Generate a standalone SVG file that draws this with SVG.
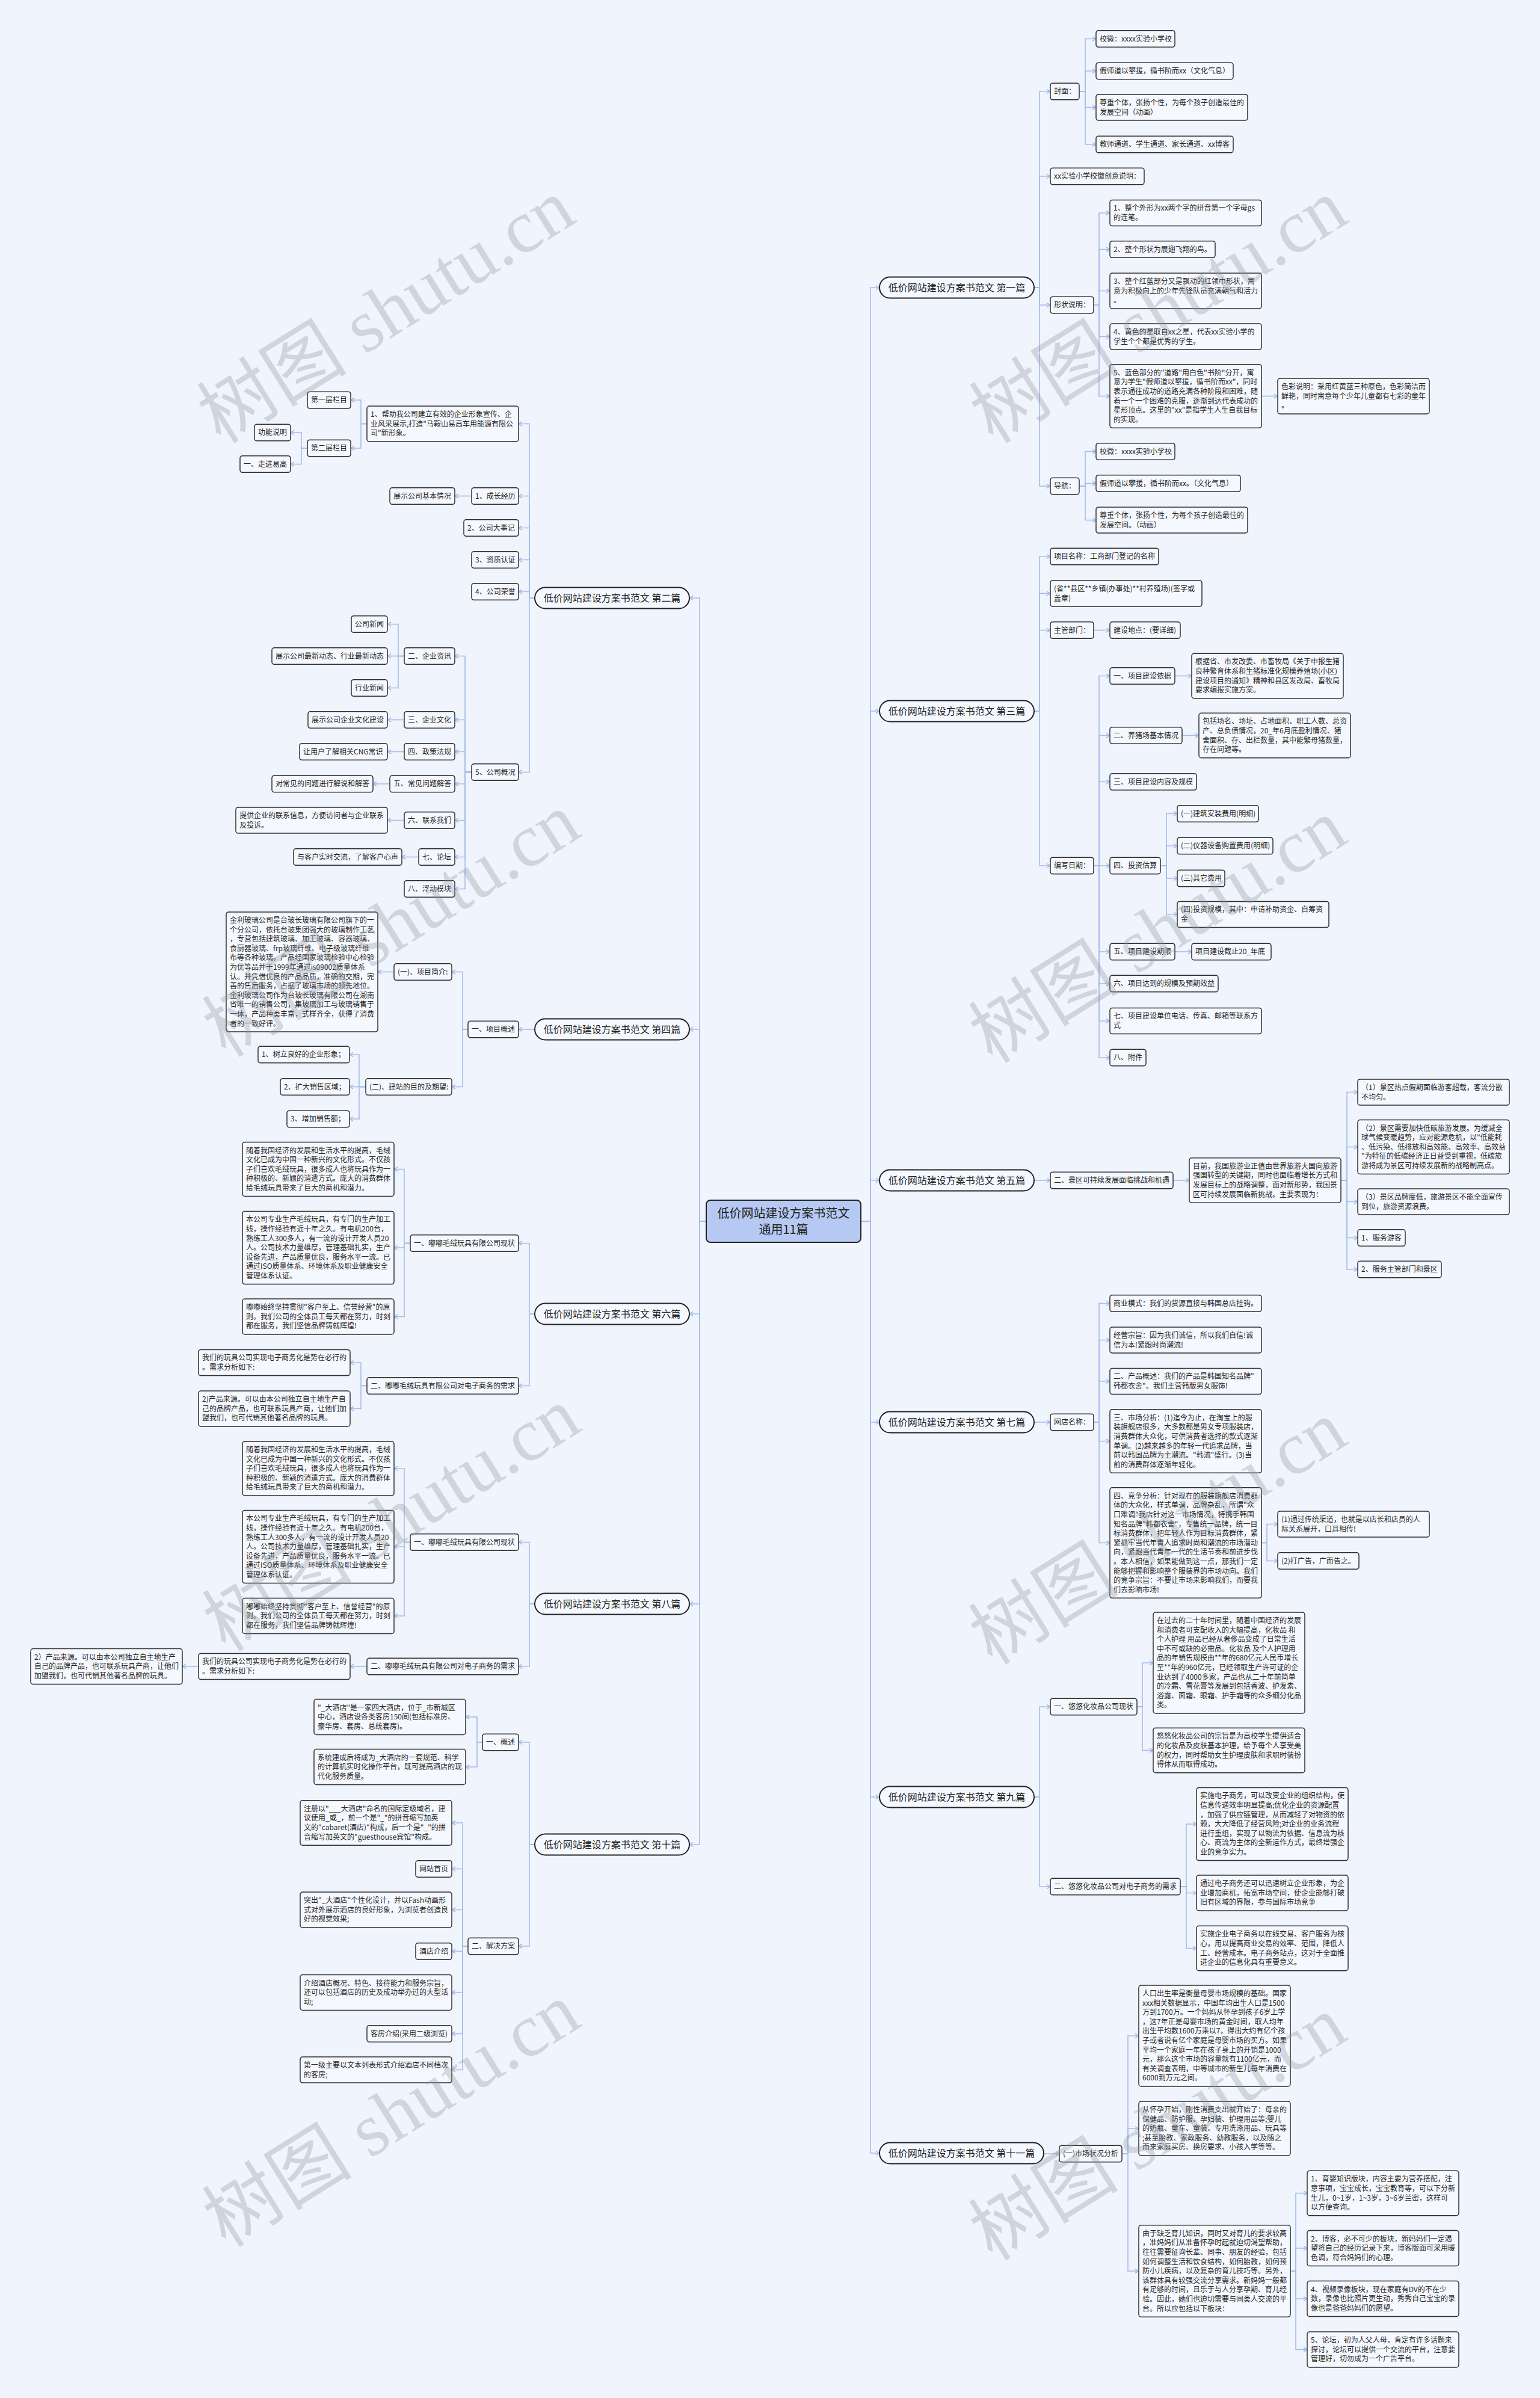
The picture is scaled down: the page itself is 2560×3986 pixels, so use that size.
<svg xmlns="http://www.w3.org/2000/svg" width="2560" height="3986" viewBox="0 0 2560 3986">
<defs>
<marker id="a" markerUnits="userSpaceOnUse" markerWidth="10" markerHeight="10" refX="7" refY="4" orient="auto"><path d="M1,0.5 L7,4 L1,7.5" fill="none" stroke="#a3bde8" stroke-width="1.6"/></marker>
</defs>
<style>
.bg{fill:#eff4fd}
.n{fill:#f5f8fe;stroke:#2e2e2e;stroke-width:1.5}
.p{fill:#f5f8fe;stroke:#222;stroke-width:2}
.r{fill:#b6c9f3;stroke:#222;stroke-width:2}
.t{font-family:"Noto Sans CJK SC","Liberation Sans",sans-serif;font-size:12px;fill:#262626}
.pt{font-family:"Noto Sans CJK SC","Liberation Sans",sans-serif;font-size:16px;fill:#222;text-anchor:middle}
.rt{font-family:"Noto Sans CJK SC","Liberation Sans",sans-serif;font-size:20px;fill:#222;text-anchor:middle}
.c path{fill:none;stroke:#a3bde8;stroke-width:1.6;marker-end:url(#a)}
.w{font-family:"Liberation Serif","Noto Sans CJK SC",serif;font-size:125px;fill:#8e949c;opacity:0.32;text-anchor:middle}
</style>
<rect class="bg" x="0" y="0" width="2560" height="3986"/>

<g id="connectors" class="c">
<path d="M1431 2030 H1447 V478 H1462"/>
<path d="M1431 2030 H1447 V1182 H1462"/>
<path d="M1431 2030 H1447 V1962 H1462"/>
<path d="M1431 2030 H1447 V2364 H1462"/>
<path d="M1431 2030 H1447 V2987 H1462"/>
<path d="M1431 2030 H1447 V3579 H1462"/>
<path d="M1174 2030 H1163 V994 H1146"/>
<path d="M1174 2030 H1163 V1711 H1146"/>
<path d="M1174 2030 H1163 V2184 H1146"/>
<path d="M1174 2030 H1163 V2666 H1146"/>
<path d="M1174 2030 H1163 V3066 H1146"/>

<path d="M1719 478 H1728 V152 H1746"/>
<path d="M1719 478 H1728 V293 H1746"/>
<path d="M1719 478 H1728 V507 H1746"/>
<path d="M1719 478 H1728 V808 H1746"/>
<path d="M1794 152 H1804 V64.5 H1822"/>
<path d="M1794 152 H1804 V118 H1822"/>
<path d="M1794 152 H1804 V178.5 H1822"/>
<path d="M1794 152 H1804 V240 H1822"/>
<path d="M1818 507 H1827 V354 H1845"/>
<path d="M1818 507 H1827 V414.5 H1845"/>
<path d="M1818 507 H1827 V483.5 H1845"/>
<path d="M1818 507 H1827 V559.5 H1845"/>
<path d="M1818 507 H1827 V658.5 H1845"/>
<path d="M2097 658.5 H2124"/>
<path d="M1794 808 H1804 V750.5 H1822"/>
<path d="M1794 808 H1804 V803.5 H1822"/>
<path d="M1794 808 H1804 V864.5 H1822"/>

<path d="M1719 1182 H1728 V925 H1746"/>
<path d="M1719 1182 H1728 V986.5 H1746"/>
<path d="M1719 1182 H1728 V1047.5 H1746"/>
<path d="M1719 1182 H1728 V1439 H1746"/>
<path d="M1818 1047.5 H1845"/>
<path d="M1818 1439 H1827 V1123.5 H1845"/>
<path d="M1818 1439 H1827 V1222.5 H1845"/>
<path d="M1818 1439 H1827 V1299.5 H1845"/>
<path d="M1818 1439 H1845"/>
<path d="M1818 1439 H1827 V1582 H1845"/>
<path d="M1818 1439 H1827 V1635 H1845"/>
<path d="M1818 1439 H1827 V1697 H1845"/>
<path d="M1818 1439 H1827 V1758 H1845"/>
<path d="M1953 1123.5 H1981"/>
<path d="M1965 1222.5 H1993"/>
<path d="M1929 1439 H1939 V1352.5 H1957"/>
<path d="M1929 1439 H1939 V1406 H1957"/>
<path d="M1929 1439 H1939 V1460 H1957"/>
<path d="M1929 1439 H1939 V1520 H1957"/>
<path d="M1953 1582 H1981"/>

<path d="M1719 1962 H1746"/>
<path d="M1950 1962 H1977"/>
<path d="M2229 1962 H2239 V1815.5 H2257"/>
<path d="M2229 1962 H2239 V1906.5 H2257"/>
<path d="M2229 1962 H2239 V1997.5 H2257"/>
<path d="M2229 1962 H2239 V2057.5 H2257"/>
<path d="M2229 1962 H2239 V2110 H2257"/>

<path d="M1719 2364 H1746"/>
<path d="M1818 2364 H1827 V2166.5 H1845"/>
<path d="M1818 2364 H1827 V2227.5 H1845"/>
<path d="M1818 2364 H1827 V2296 H1845"/>
<path d="M1818 2364 H1827 V2395.5 H1845"/>
<path d="M1818 2364 H1827 V2564.5 H1845"/>
<path d="M2097 2564.5 H2106 V2533.5 H2124"/>
<path d="M2097 2564.5 H2106 V2594.5 H2124"/>

<path d="M1719 2987 H1728 V2837 H1746"/>
<path d="M1719 2987 H1728 V3136 H1746"/>
<path d="M1890 2837 H1899 V2764 H1917"/>
<path d="M1890 2837 H1899 V2909.5 H1917"/>
<path d="M1962 3136 H1972 V3032 H1989"/>
<path d="M1962 3136 H1972 V3146.5 H1989"/>
<path d="M1962 3136 H1972 V3238.5 H1989"/>

<path d="M1735 3580 H1761"/>
<path d="M1865 3580 H1875 V3384 H1893"/>
<path d="M1865 3580 H1875 V3538 H1893"/>
<path d="M1865 3580 H1875 V3775 H1893"/>
<path d="M2145 3775 H2154 V3645.5 H2173"/>
<path d="M2145 3775 H2154 V3737 H2173"/>
<path d="M2145 3775 H2154 V3821 H2173"/>
<path d="M2145 3775 H2154 V3905.5 H2173"/>

<path d="M889 994 H880 V704.5 H862"/>
<path d="M889 994 H880 V824.5 H862"/>
<path d="M889 994 H880 V877.5 H862"/>
<path d="M889 994 H880 V930.5 H862"/>
<path d="M889 994 H880 V983.5 H862"/>
<path d="M889 994 H880 V1283.5 H862"/>
<path d="M610 704.5 H600 V665 H583"/>
<path d="M610 704.5 H600 V745 H583"/>
<path d="M511 745 H501 V719 H483"/>
<path d="M511 745 H501 V771.5 H483"/>
<path d="M784 824.5 H756"/>
<path d="M784 1283.5 H773 V1090.5 H756"/>
<path d="M784 1283.5 H773 V1196.5 H756"/>
<path d="M784 1283.5 H773 V1249.5 H756"/>
<path d="M784 1283.5 H773 V1303 H756"/>
<path d="M784 1283.5 H773 V1363.5 H756"/>
<path d="M784 1283.5 H773 V1424.5 H756"/>
<path d="M784 1283.5 H773 V1477.5 H756"/>
<path d="M672 1090.5 H662 V1037.5 H644"/>
<path d="M672 1090.5 H644"/>
<path d="M672 1090.5 H662 V1143.5 H644"/>
<path d="M672 1196.5 H644"/>
<path d="M672 1249.5 H644"/>
<path d="M648 1303 H620"/>
<path d="M672 1363.5 H644"/>
<path d="M696 1424.5 H668"/>

<path d="M889 1711 H862"/>
<path d="M778 1711 H769 V1615.5 H751"/>
<path d="M778 1711 H769 V1806.5 H751"/>
<path d="M655 1615.5 H628"/>
<path d="M608 1806.5 H597 V1753 H581"/>
<path d="M608 1806.5 H581"/>
<path d="M608 1806.5 H597 V1860 H581"/>

<path d="M889 2184 H880 V2066.5 H862"/>
<path d="M889 2184 H880 V2303.5 H862"/>
<path d="M682 2066.5 H672 V1943.5 H655"/>
<path d="M682 2066.5 H672 V2074 H655"/>
<path d="M682 2066.5 H672 V2188.5 H655"/>
<path d="M610 2303.5 H600 V2265 H582"/>
<path d="M610 2303.5 H600 V2341.5 H582"/>

<path d="M889 2666 H880 V2563.5 H862"/>
<path d="M889 2666 H880 V2770 H862"/>
<path d="M682 2563.5 H672 V2441 H655"/>
<path d="M682 2563.5 H672 V2571 H655"/>
<path d="M682 2563.5 H672 V2686 H655"/>
<path d="M610 2770 H582"/>
<path d="M330 2770 H303"/>

<path d="M889 3066 H880 V2896 H862"/>
<path d="M889 3066 H880 V3235 H862"/>
<path d="M802 2896 H793 V2854 H774"/>
<path d="M802 2896 H793 V2937 H774"/>
<path d="M778 3235 H769 V3030 H751"/>
<path d="M778 3235 H769 V3106.5 H751"/>
<path d="M778 3235 H769 V3174.5 H751"/>
<path d="M778 3235 H769 V3243.5 H751"/>
<path d="M778 3235 H769 V3312 H751"/>
<path d="M778 3235 H769 V3380.5 H751"/>
<path d="M778 3235 H769 V3440.5 H751"/>
</g>

<g id="root"><rect class="r" x="1174" y="1995" width="257" height="70" rx="7"/><text class="rt"><tspan x="1302.5" y="2023.5">低价网站建设方案书范文</tspan><tspan x="1302.5" y="2050.5">通用11篇</tspan></text></g>

<g id="p1"><rect class="p" x="1462" y="460.5" width="257" height="35" rx="17.5"/><text class="pt" x="1590.5" y="483.6">低价网站建设方案书范文 第一篇</text></g>
<g id="p3"><rect class="p" x="1462" y="1164.5" width="257" height="35" rx="17.5"/><text class="pt" x="1590.5" y="1187.6">低价网站建设方案书范文 第三篇</text></g>
<g id="p5"><rect class="p" x="1462" y="1944.5" width="257" height="35" rx="17.5"/><text class="pt" x="1590.5" y="1967.6">低价网站建设方案书范文 第五篇</text></g>
<g id="p7"><rect class="p" x="1462" y="2346.5" width="257" height="35" rx="17.5"/><text class="pt" x="1590.5" y="2369.6">低价网站建设方案书范文 第七篇</text></g>
<g id="p9"><rect class="p" x="1462" y="2969.5" width="257" height="35" rx="17.5"/><text class="pt" x="1590.5" y="2992.6">低价网站建设方案书范文 第九篇</text></g>
<g id="p11"><rect class="p" x="1462" y="3561.5" width="273" height="35" rx="17.5"/><text class="pt" x="1598.5" y="3584.6">低价网站建设方案书范文 第十一篇</text></g>
<g id="p2"><rect class="p" x="889" y="976.5" width="257" height="35" rx="17.5"/><text class="pt" x="1017.5" y="999.6">低价网站建设方案书范文 第二篇</text></g>
<g id="p4"><rect class="p" x="889" y="1693.5" width="257" height="35" rx="17.5"/><text class="pt" x="1017.5" y="1716.6">低价网站建设方案书范文 第四篇</text></g>
<g id="p6"><rect class="p" x="889" y="2166.5" width="257" height="35" rx="17.5"/><text class="pt" x="1017.5" y="2189.6">低价网站建设方案书范文 第六篇</text></g>
<g id="p8"><rect class="p" x="889" y="2648.5" width="257" height="35" rx="17.5"/><text class="pt" x="1017.5" y="2671.6">低价网站建设方案书范文 第八篇</text></g>
<g id="p10"><rect class="p" x="889" y="3048.5" width="257" height="35" rx="17.5"/><text class="pt" x="1017.5" y="3071.6">低价网站建设方案书范文 第十篇</text></g>

<g id="r1"><rect class="n" x="1746" y="138.2" width="48" height="27.6" rx="4"/><text class="t" x="1752" y="156.2">封面：</text></g>
<g id="r2"><rect class="n" x="1822" y="50.7" width="131" height="27.6" rx="4"/><text class="t" x="1828" y="68.7">校微：xxxx实验小学校</text></g>
<g id="r3"><rect class="n" x="1822" y="104.2" width="228" height="27.6" rx="4"/><text class="t" x="1828" y="122.2">假师道以攀援，循书阶而xx（文化气息）</text></g>
<g id="r4"><rect class="n" x="1822" y="156.9" width="252" height="43.2" rx="4"/><text class="t"><tspan x="1828" y="174.9">尊重个体，张扬个性，为每个孩子创造最佳的</tspan><tspan x="1828" dy="15.6">发展空间（动画）</tspan></text></g>
<g id="r5"><rect class="n" x="1822" y="226.2" width="228" height="27.6" rx="4"/><text class="t" x="1828" y="244.2">教师通道、学生通道、家长通道、xx博客</text></g>
<g id="r6"><rect class="n" x="1746" y="279.2" width="156" height="27.6" rx="4"/><text class="t" x="1752" y="297.2">xx实验小学校徽创意说明：</text></g>
<g id="r7"><rect class="n" x="1746" y="493.2" width="72" height="27.6" rx="4"/><text class="t" x="1752" y="511.2">形状说明：</text></g>
<g id="r8"><rect class="n" x="1845" y="332.4" width="252" height="43.2" rx="4"/><text class="t"><tspan x="1851" y="350.4">1、整个外形为xx两个字的拼音第一个字母gs</tspan><tspan x="1851" dy="15.6">的连笔。</tspan></text></g>
<g id="r9"><rect class="n" x="1845" y="400.7" width="175" height="27.6" rx="4"/><text class="t" x="1851" y="418.7">2、整个形状为展翅飞翔的鸟。</text></g>
<g id="r10"><rect class="n" x="1845" y="454.1" width="252" height="58.8" rx="4"/><text class="t"><tspan x="1851" y="472.1">3、整个红蓝部分又是飘动的红领巾形状，寓</tspan><tspan x="1851" dy="15.6">意为积极向上的少年先锋队员充满朝气和活力</tspan><tspan x="1851" dy="15.6">。</tspan></text></g>
<g id="r11"><rect class="n" x="1845" y="537.9" width="252" height="43.2" rx="4"/><text class="t"><tspan x="1851" y="555.9">4、黄色的星取自xx之星，代表xx实验小学的</tspan><tspan x="1851" dy="15.6">学生个个都是优秀的学生。</tspan></text></g>
<g id="r12"><rect class="n" x="1845" y="605.7" width="252" height="105.6" rx="4"/><text class="t"><tspan x="1851" y="623.7">5、蓝色部分的"道路"用白色"书阶"分开，寓</tspan><tspan x="1851" dy="15.6">意为学生"假师道以攀援，循书阶而xx"，同时</tspan><tspan x="1851" dy="15.6">表示通往成功的道路充满各种阶段和困难，随</tspan><tspan x="1851" dy="15.6">着一个一个困难的克服，逐渐到达代表成功的</tspan><tspan x="1851" dy="15.6">星形顶点。这里的"xx"是指学生人生自我目标</tspan><tspan x="1851" dy="15.6">的实现。</tspan></text></g>
<g id="r13"><rect class="n" x="2124" y="629.1" width="252" height="58.8" rx="4"/><text class="t"><tspan x="2130" y="647.1">色彩说明：采用红黄蓝三种原色，色彩简洁而</tspan><tspan x="2130" dy="15.6">鲜艳，同时寓意每个少年儿童都有七彩的童年</tspan><tspan x="2130" dy="15.6">。</tspan></text></g>
<g id="r14"><rect class="n" x="1746" y="794.2" width="48" height="27.6" rx="4"/><text class="t" x="1752" y="812.2">导航：</text></g>
<g id="r15"><rect class="n" x="1822" y="736.7" width="131" height="27.6" rx="4"/><text class="t" x="1828" y="754.7">校微：xxxx实验小学校</text></g>
<g id="r16"><rect class="n" x="1822" y="789.7" width="240" height="27.6" rx="4"/><text class="t" x="1828" y="807.7">假师道以攀援，循书阶而xx。（文化气息）</text></g>
<g id="r17"><rect class="n" x="1822" y="842.9" width="252" height="43.2" rx="4"/><text class="t"><tspan x="1828" y="860.9">尊重个体，张扬个性，为每个孩子创造最佳的</tspan><tspan x="1828" dy="15.6">发展空间。（动画）</tspan></text></g>

<g id="r18"><rect class="n" x="1746" y="911.2" width="180" height="27.6" rx="4"/><text class="t" x="1752" y="929.2">项目名称：工商部门登记的名称</text></g>
<g id="r19"><rect class="n" x="1746" y="964.9" width="252" height="43.2" rx="4"/><text class="t"><tspan x="1752" y="982.9">(省**县区**乡镇(办事处)**村养殖场)(签字或</tspan><tspan x="1752" dy="15.6">盖章)</tspan></text></g>
<g id="r20"><rect class="n" x="1746" y="1033.7" width="72" height="27.6" rx="4"/><text class="t" x="1752" y="1051.7">主管部门：</text></g>
<g id="r21"><rect class="n" x="1845" y="1033.7" width="117" height="27.6" rx="4"/><text class="t" x="1851" y="1051.7">建设地点：(要详细)</text></g>
<g id="r22"><rect class="n" x="1746" y="1425.2" width="72" height="27.6" rx="4"/><text class="t" x="1752" y="1443.2">编写日期：</text></g>
<g id="r23"><rect class="n" x="1845" y="1109.7" width="108" height="27.6" rx="4"/><text class="t" x="1851" y="1127.7">一、项目建设依据</text></g>
<g id="r24"><rect class="n" x="1981" y="1086.3" width="252" height="74.4" rx="4"/><text class="t"><tspan x="1987" y="1104.3">根据省、市发改委、市畜牧局《关于申报生猪</tspan><tspan x="1987" dy="15.6">良种繁育体系和生猪标准化规模养殖场(小区)</tspan><tspan x="1987" dy="15.6">建设项目的通知》精神和县区发改局、畜牧局</tspan><tspan x="1987" dy="15.6">要求编报实施方案。</tspan></text></g>
<g id="r25"><rect class="n" x="1845" y="1208.7" width="120" height="27.6" rx="4"/><text class="t" x="1851" y="1226.7">二、养猪场基本情况</text></g>
<g id="r26"><rect class="n" x="1993" y="1185.3" width="252" height="74.4" rx="4"/><text class="t"><tspan x="1999" y="1203.3">包括场名、场址、占地面积、职工人数、总资</tspan><tspan x="1999" dy="15.6">产、总负债情况，20_年6月底盈利情况、猪</tspan><tspan x="1999" dy="15.6">舍面积、存、出栏数量，其中能繁母猪数量，</tspan><tspan x="1999" dy="15.6">存在问题等。</tspan></text></g>
<g id="r27"><rect class="n" x="1845" y="1285.7" width="144" height="27.6" rx="4"/><text class="t" x="1851" y="1303.7">三、项目建设内容及规模</text></g>
<g id="r28"><rect class="n" x="1845" y="1425.2" width="84" height="27.6" rx="4"/><text class="t" x="1851" y="1443.2">四、投资估算</text></g>
<g id="r29"><rect class="n" x="1957" y="1338.7" width="135" height="27.6" rx="4"/><text class="t" x="1963" y="1356.7">(一)建筑安装费用(明细)</text></g>
<g id="r30"><rect class="n" x="1957" y="1392.2" width="159" height="27.6" rx="4"/><text class="t" x="1963" y="1410.2">(二)仪器设备购置费用(明细)</text></g>
<g id="r31"><rect class="n" x="1957" y="1446.2" width="79" height="27.6" rx="4"/><text class="t" x="1963" y="1464.2">(三)其它费用</text></g>
<g id="r32"><rect class="n" x="1957" y="1498.4" width="252" height="43.2" rx="4"/><text class="t"><tspan x="1963" y="1516.4">(四)投资规模，其中：申请补助资金、自筹资</tspan><tspan x="1963" dy="15.6">金</tspan></text></g>
<g id="r33"><rect class="n" x="1845" y="1568.2" width="108" height="27.6" rx="4"/><text class="t" x="1851" y="1586.2">五、项目建设期限</text></g>
<g id="r34"><rect class="n" x="1981" y="1568.2" width="132" height="27.6" rx="4"/><text class="t" x="1987" y="1586.2">项目建设截止20_年底</text></g>
<g id="r35"><rect class="n" x="1845" y="1621.2" width="180" height="27.6" rx="4"/><text class="t" x="1851" y="1639.2">六、项目达到的规模及预期效益</text></g>
<g id="r36"><rect class="n" x="1845" y="1675.4" width="252" height="43.2" rx="4"/><text class="t"><tspan x="1851" y="1693.4">七、项目建设单位电话、传真、邮箱等联系方</tspan><tspan x="1851" dy="15.6">式</tspan></text></g>
<g id="r37"><rect class="n" x="1845" y="1744.2" width="60" height="27.6" rx="4"/><text class="t" x="1851" y="1762.2">八、附件</text></g>

<g id="r38"><rect class="n" x="1746" y="1948.2" width="204" height="27.6" rx="4"/><text class="t" x="1752" y="1966.2">二、景区可持续发展面临挑战和机遇</text></g>
<g id="r39"><rect class="n" x="1977" y="1924.8" width="252" height="74.4" rx="4"/><text class="t"><tspan x="1983" y="1942.8">目前，我国旅游业正值由世界旅游大国向旅游</tspan><tspan x="1983" dy="15.6">强国转型的关键期，同时也面临着增长方式和</tspan><tspan x="1983" dy="15.6">发展目标上的战略调整，面对新形势，我国景</tspan><tspan x="1983" dy="15.6">区可持续发展面临新挑战。主要表现为：</tspan></text></g>
<g id="r40"><rect class="n" x="2257" y="1793.9" width="252" height="43.2" rx="4"/><text class="t"><tspan x="2263" y="1811.9">（1）景区热点假期面临游客超载，客流分散</tspan><tspan x="2263" dy="15.6">不均匀。</tspan></text></g>
<g id="r41"><rect class="n" x="2257" y="1861.5" width="252" height="90" rx="4"/><text class="t"><tspan x="2263" y="1879.5">（2）景区需要加快低碳旅游发展。为缓减全</tspan><tspan x="2263" dy="15.6">球气候变暖趋势，应对能源危机，以"低能耗</tspan><tspan x="2263" dy="15.6">、低污染、低排放和高效能、高效率、高效益</tspan><tspan x="2263" dy="15.6">"为特征的低碳经济正日益受到重视，低碳旅</tspan><tspan x="2263" dy="15.6">游将成为景区可持续发展新的战略制高点。</tspan></text></g>
<g id="r42"><rect class="n" x="2257" y="1975.9" width="252" height="43.2" rx="4"/><text class="t"><tspan x="2263" y="1993.9">（3）景区品牌度低，旅游景区不能全面宣传</tspan><tspan x="2263" dy="15.6">到位，旅游资源浪费。</tspan></text></g>
<g id="r43"><rect class="n" x="2257" y="2043.7" width="79" height="27.6" rx="4"/><text class="t" x="2263" y="2061.7">1、服务游客</text></g>
<g id="r44"><rect class="n" x="2257" y="2096.2" width="139" height="27.6" rx="4"/><text class="t" x="2263" y="2114.2">2、服务主管部门和景区</text></g>

<g id="r45"><rect class="n" x="1746" y="2350.2" width="72" height="27.6" rx="4"/><text class="t" x="1752" y="2368.2">网店名称：</text></g>
<g id="r46"><rect class="n" x="1845" y="2152.7" width="252" height="27.6" rx="4"/><text class="t" x="1851" y="2170.7">商业模式：我们的货源直接与韩国总店挂钩。</text></g>
<g id="r47"><rect class="n" x="1845" y="2205.9" width="252" height="43.2" rx="4"/><text class="t"><tspan x="1851" y="2223.9">经营宗旨：因为我们诚信，所以我们自信!诚</tspan><tspan x="1851" dy="15.6">信为本!紧跟时尚潮流!</tspan></text></g>
<g id="r48"><rect class="n" x="1845" y="2274.4" width="252" height="43.2" rx="4"/><text class="t"><tspan x="1851" y="2292.4">二、产品概述：我们的产品是韩国知名品牌"</tspan><tspan x="1851" dy="15.6">韩都衣舍"。我们主营韩版男女服饰!</tspan></text></g>
<g id="r49"><rect class="n" x="1845" y="2342.7" width="252" height="105.6" rx="4"/><text class="t"><tspan x="1851" y="2360.7">三、市场分析：(1)迄今为止，在淘宝上的服</tspan><tspan x="1851" dy="15.6">装旗舰店很多，大多数都是男女专项服装店，</tspan><tspan x="1851" dy="15.6">消费群体大众化，可供消费者选择的款式逐渐</tspan><tspan x="1851" dy="15.6">单调。(2)越来越多的年轻一代追求品牌，当</tspan><tspan x="1851" dy="15.6">前以韩国品牌为主潮流。"韩流"盛行。(3)当</tspan><tspan x="1851" dy="15.6">前的消费群体逐渐年轻化。</tspan></text></g>
<g id="r50"><rect class="n" x="1845" y="2472.7" width="252" height="183.6" rx="4"/><text class="t"><tspan x="1851" y="2490.7">四、竞争分析：针对现在的服装旗舰店消费群</tspan><tspan x="1851" dy="15.6">体的大众化，样式单调，品牌杂乱，所谓"众</tspan><tspan x="1851" dy="15.6">口难调"我店针对这一市场情况，特携手韩国</tspan><tspan x="1851" dy="15.6">知名品牌"韩都衣舍"，专售统一品牌，统一目</tspan><tspan x="1851" dy="15.6">标消费群体，把年轻人作为目标消费群体，紧</tspan><tspan x="1851" dy="15.6">紧抓牢当代年青人追求时尚和潮流的市场潜动</tspan><tspan x="1851" dy="15.6">向，紧跟当代青年一代的生活节奏和前进步伐</tspan><tspan x="1851" dy="15.6">。本人相信，如果能做到这一点，那我们一定</tspan><tspan x="1851" dy="15.6">能够把握和影响整个服装界的市场动向。我们</tspan><tspan x="1851" dy="15.6">的竞争宗旨：不要让市场来影响我们，而要我</tspan><tspan x="1851" dy="15.6">们去影响市场!</tspan></text></g>
<g id="r51"><rect class="n" x="2124" y="2511.9" width="252" height="43.2" rx="4"/><text class="t"><tspan x="2130" y="2529.9">(1)通过传统渠道，也就是以店长和店员的人</tspan><tspan x="2130" dy="15.6">际关系展开，口耳相传!</tspan></text></g>
<g id="r52"><rect class="n" x="2124" y="2580.7" width="135" height="27.6" rx="4"/><text class="t" x="2130" y="2598.7">(2)打广告，广而告之。</text></g>

<g id="r53"><rect class="n" x="1746" y="2823.2" width="144" height="27.6" rx="4"/><text class="t" x="1752" y="2841.2">一、悠悠化妆品公司现状</text></g>
<g id="r54"><rect class="n" x="1917" y="2680" width="252" height="168" rx="4"/><text class="t"><tspan x="1923" y="2698">在过去的二十年时间里，随着中国经济的发展</tspan><tspan x="1923" dy="15.6">和消费者可支配收入的大幅提高，化妆品 和</tspan><tspan x="1923" dy="15.6">个人护理 用品已经从奢侈品变成了日常生活</tspan><tspan x="1923" dy="15.6">中不可或缺的必需品。化妆品 及个人护理用</tspan><tspan x="1923" dy="15.6">品的年销售规模由**年的680亿元人民币增长</tspan><tspan x="1923" dy="15.6">至**年的960亿元，已经领取生产许可证的企</tspan><tspan x="1923" dy="15.6">业达到了4000多家，产品也从二十年前简单</tspan><tspan x="1923" dy="15.6">的冷霜、雪花膏等发展到包括香波、护发素、</tspan><tspan x="1923" dy="15.6">浴露、面霜、眼霜、护手霜等的众多细分化品</tspan><tspan x="1923" dy="15.6">类。</tspan></text></g>
<g id="r55"><rect class="n" x="1917" y="2872.3" width="252" height="74.4" rx="4"/><text class="t"><tspan x="1923" y="2890.3">悠悠化妆品公司的宗旨是为高校学生提供适合</tspan><tspan x="1923" dy="15.6">的化妆品及皮肤基本护理，给予每个人享受美</tspan><tspan x="1923" dy="15.6">的权力，同时帮助女生护理皮肤和求职时装扮</tspan><tspan x="1923" dy="15.6">得体从而取得成功。</tspan></text></g>
<g id="r56"><rect class="n" x="1746" y="3122.2" width="216" height="27.6" rx="4"/><text class="t" x="1752" y="3140.2">二、悠悠化妆品公司对电子商务的需求</text></g>
<g id="r57"><rect class="n" x="1989" y="2971.4" width="252" height="121.2" rx="4"/><text class="t"><tspan x="1995" y="2989.4">实施电子商务，可以改变企业的组织结构，使</tspan><tspan x="1995" dy="15.6">信息传递效率明显提高;优化企业的资源配置</tspan><tspan x="1995" dy="15.6">，加强了供应链管理，从而减轻了对物资的依</tspan><tspan x="1995" dy="15.6">赖，大大降低了经营风险;对企业的业务流程</tspan><tspan x="1995" dy="15.6">进行重组，实现了以物流为依据、信息流为核</tspan><tspan x="1995" dy="15.6">心、商流为主体的全新运作方式，最终增强企</tspan><tspan x="1995" dy="15.6">业的竞争实力。</tspan></text></g>
<g id="r58"><rect class="n" x="1989" y="3117.1" width="252" height="58.8" rx="4"/><text class="t"><tspan x="1995" y="3135.1">通过电子商务还可以迅速树立企业形象，为企</tspan><tspan x="1995" dy="15.6">业增加商机，拓宽市场空间，使企业能够打破</tspan><tspan x="1995" dy="15.6">旧有区域的界限，参与国际市场竞争</tspan></text></g>
<g id="r59"><rect class="n" x="1989" y="3201.3" width="252" height="74.4" rx="4"/><text class="t"><tspan x="1995" y="3219.3">实施企业电子商务以在线交易、客户服务为核</tspan><tspan x="1995" dy="15.6">心，用以提高商业交易的效率、范围，降低人</tspan><tspan x="1995" dy="15.6">工、经营成本。电子商务站点，这对于全面推</tspan><tspan x="1995" dy="15.6">进企业的信息化具有重要意义。</tspan></text></g>

<g id="r60"><rect class="n" x="1761" y="3566.2" width="104" height="27.6" rx="4"/><text class="t" x="1767" y="3584.2">(一)市场状况分析</text></g>
<g id="r61"><rect class="n" x="1893" y="3300" width="252" height="168" rx="4"/><text class="t"><tspan x="1899" y="3318">人口出生率是衡量母婴市场规模的基础。国家</tspan><tspan x="1899" dy="15.6">xxx相关数据显示，中国年均出生人口是1500</tspan><tspan x="1899" dy="15.6">万到1700万。一个妈妈从怀孕到孩子6岁上学</tspan><tspan x="1899" dy="15.6">，这7年正是母婴市场的黄金时间，取人均年</tspan><tspan x="1899" dy="15.6">出生平均数1600万乘以7，得出大约有亿个孩</tspan><tspan x="1899" dy="15.6">子或者说有亿个家庭是母婴市场的买方。如果</tspan><tspan x="1899" dy="15.6">平均一个家庭一年在孩子身上的开销是1000</tspan><tspan x="1899" dy="15.6">元，那么这个市场的容量就有1100亿元，而</tspan><tspan x="1899" dy="15.6">有关调查表明，中等城市的新生儿每年消费在</tspan><tspan x="1899" dy="15.6">6000到万元之间。</tspan></text></g>
<g id="r62"><rect class="n" x="1893" y="3493" width="252" height="90" rx="4"/><text class="t"><tspan x="1899" y="3511">从怀孕开始，刚性消费支出就开始了：母亲的</tspan><tspan x="1899" dy="15.6">保健品、防护服、孕妇装、护理用品等;婴儿</tspan><tspan x="1899" dy="15.6">的奶瓶、童车、童装、专用洗涤用品、玩具等</tspan><tspan x="1899" dy="15.6">;甚至胎教、家政服务、幼教服务，以及随之</tspan><tspan x="1899" dy="15.6">而来家庭买房、换房要求、小孩入学等等。</tspan></text></g>
<g id="r63"><rect class="n" x="1893" y="3698.8" width="252" height="152.4" rx="4"/><text class="t"><tspan x="1899" y="3716.8">由于缺乏育儿知识，同时又对育儿的要求较高</tspan><tspan x="1899" dy="15.6">，准妈妈们从准备怀孕时起就迫切渴望帮助，</tspan><tspan x="1899" dy="15.6">往往需要征询长辈、同事、朋友的经验，包括</tspan><tspan x="1899" dy="15.6">如何调整生活和饮食结构，如何胎教，如何预</tspan><tspan x="1899" dy="15.6">防小儿疾病，以及复杂的育儿技巧等。另外，</tspan><tspan x="1899" dy="15.6">该群体具有较强交流分享需求。新妈妈一般都</tspan><tspan x="1899" dy="15.6">有足够的时间，且乐于与人分享孕期、育儿经</tspan><tspan x="1899" dy="15.6">验。因此，她们也迫切需要与同类人交流的平</tspan><tspan x="1899" dy="15.6">台。所以应包括以下板块：</tspan></text></g>
<g id="r64"><rect class="n" x="2173" y="3608.3" width="252" height="74.4" rx="4"/><text class="t"><tspan x="2179" y="3626.3">1、育婴知识版块，内容主要为营养搭配，注</tspan><tspan x="2179" dy="15.6">意事项，宝宝成长，宝宝教育等，可以下分新</tspan><tspan x="2179" dy="15.6">生儿，0~1岁，1~3岁，3~6岁兰密，这样可</tspan><tspan x="2179" dy="15.6">以方便查询。</tspan></text></g>
<g id="r65"><rect class="n" x="2173" y="3707.6" width="252" height="58.8" rx="4"/><text class="t"><tspan x="2179" y="3725.6">2、博客，必不可少的板块，新妈妈们一定渴</tspan><tspan x="2179" dy="15.6">望将自己的经历记录下来，博客版面可采用暖</tspan><tspan x="2179" dy="15.6">色调，符合妈妈们的心理。</tspan></text></g>
<g id="r66"><rect class="n" x="2173" y="3791.6" width="252" height="58.8" rx="4"/><text class="t"><tspan x="2179" y="3809.6">4、视频录像板块，现在家庭有DV的不在少</tspan><tspan x="2179" dy="15.6">数，录像也比照片更生动，秀秀自己宝宝的录</tspan><tspan x="2179" dy="15.6">像也是爸爸妈妈们的愿望。</tspan></text></g>
<g id="r67"><rect class="n" x="2173" y="3876.1" width="252" height="58.8" rx="4"/><text class="t"><tspan x="2179" y="3894.1">5、论坛，初为人父人母，肯定有许多话题来</tspan><tspan x="2179" dy="15.6">探讨，论坛可以提供一个交流的平台，注意要</tspan><tspan x="2179" dy="15.6">管理好，切勿成为一个广告平台。</tspan></text></g>

<g id="l1"><rect class="n" x="610" y="675.1" width="252" height="58.8" rx="4"/><text class="t"><tspan x="616" y="693.1">1、帮助我公司建立有效的企业形象宣传、企</tspan><tspan x="616" dy="15.6">业风采展示,打造"马鞍山易高车用能源有限公</tspan><tspan x="616" dy="15.6">司"新形象。</tspan></text></g>
<g id="l2"><rect class="n" x="511" y="651.2" width="72" height="27.6" rx="4"/><text class="t" x="517" y="669.2">第一层栏目</text></g>
<g id="l3"><rect class="n" x="511" y="731.2" width="72" height="27.6" rx="4"/><text class="t" x="517" y="749.2">第二层栏目</text></g>
<g id="l4"><rect class="n" x="423" y="705.2" width="60" height="27.6" rx="4"/><text class="t" x="429" y="723.2">功能说明</text></g>
<g id="l5"><rect class="n" x="399" y="757.7" width="84" height="27.6" rx="4"/><text class="t" x="405" y="775.7">一、走进易高</text></g>
<g id="l6"><rect class="n" x="784" y="810.7" width="78" height="27.6" rx="4"/><text class="t" x="790" y="828.7">1、成长经历</text></g>
<g id="l7"><rect class="n" x="648" y="810.7" width="108" height="27.6" rx="4"/><text class="t" x="654" y="828.7">展示公司基本情况</text></g>
<g id="l8"><rect class="n" x="771" y="863.7" width="91" height="27.6" rx="4"/><text class="t" x="777" y="881.7">2、公司大事记</text></g>
<g id="l9"><rect class="n" x="784" y="916.7" width="78" height="27.6" rx="4"/><text class="t" x="790" y="934.7">3、资质认证</text></g>
<g id="l10"><rect class="n" x="784" y="969.7" width="78" height="27.6" rx="4"/><text class="t" x="790" y="987.7">4、公司荣誉</text></g>
<g id="l11"><rect class="n" x="784" y="1269.7" width="78" height="27.6" rx="4"/><text class="t" x="790" y="1287.7">5、公司概况</text></g>
<g id="l12"><rect class="n" x="672" y="1076.7" width="84" height="27.6" rx="4"/><text class="t" x="678" y="1094.7">二、企业资讯</text></g>
<g id="l13"><rect class="n" x="584" y="1023.7" width="60" height="27.6" rx="4"/><text class="t" x="590" y="1041.7">公司新闻</text></g>
<g id="l14"><rect class="n" x="452" y="1076.7" width="192" height="27.6" rx="4"/><text class="t" x="458" y="1094.7">展示公司最新动态、行业最新动态</text></g>
<g id="l15"><rect class="n" x="584" y="1129.7" width="60" height="27.6" rx="4"/><text class="t" x="590" y="1147.7">行业新闻</text></g>
<g id="l16"><rect class="n" x="672" y="1182.7" width="84" height="27.6" rx="4"/><text class="t" x="678" y="1200.7">三、企业文化</text></g>
<g id="l17"><rect class="n" x="512" y="1182.7" width="132" height="27.6" rx="4"/><text class="t" x="518" y="1200.7">展示公司企业文化建设</text></g>
<g id="l18"><rect class="n" x="672" y="1235.7" width="84" height="27.6" rx="4"/><text class="t" x="678" y="1253.7">四、政策法规</text></g>
<g id="l19"><rect class="n" x="498" y="1235.7" width="146" height="27.6" rx="4"/><text class="t" x="504" y="1253.7">让用户了解相关CNG常识</text></g>
<g id="l20"><rect class="n" x="648" y="1289.2" width="108" height="27.6" rx="4"/><text class="t" x="654" y="1307.2">五、常见问题解答</text></g>
<g id="l21"><rect class="n" x="452" y="1289.2" width="168" height="27.6" rx="4"/><text class="t" x="458" y="1307.2">对常见的问题进行解说和解答</text></g>
<g id="l22"><rect class="n" x="672" y="1349.7" width="84" height="27.6" rx="4"/><text class="t" x="678" y="1367.7">六、联系我们</text></g>
<g id="l23"><rect class="n" x="392" y="1341.9" width="252" height="43.2" rx="4"/><text class="t"><tspan x="398" y="1359.9">提供企业的联系信息，方便访问者与企业联系</tspan><tspan x="398" dy="15.6">及投诉。</tspan></text></g>
<g id="l24"><rect class="n" x="696" y="1410.7" width="60" height="27.6" rx="4"/><text class="t" x="702" y="1428.7">七、论坛</text></g>
<g id="l25"><rect class="n" x="488" y="1410.7" width="180" height="27.6" rx="4"/><text class="t" x="494" y="1428.7">与客户实时交流，了解客户心声</text></g>
<g id="l26"><rect class="n" x="672" y="1463.7" width="84" height="27.6" rx="4"/><text class="t" x="678" y="1481.7">八、浮动模块</text></g>

<g id="l27"><rect class="n" x="778" y="1697.2" width="84" height="27.6" rx="4"/><text class="t" x="784" y="1715.2">一、项目概述</text></g>
<g id="l28"><rect class="n" x="655" y="1601.7" width="96" height="27.6" rx="4"/><text class="t" x="661" y="1619.7">(一)、项目简介:</text></g>
<g id="l29"><rect class="n" x="376" y="1515.9" width="252" height="199.2" rx="4"/><text class="t"><tspan x="382" y="1533.9">金利玻璃公司是台玻长玻璃有限公司旗下的一</tspan><tspan x="382" dy="15.6">个分公司，依托台玻集团强大的玻璃制作工艺</tspan><tspan x="382" dy="15.6">，专营包括建筑玻璃、加工玻璃、容器玻璃、</tspan><tspan x="382" dy="15.6">食厨器玻璃、frp玻璃纤维、电子级玻璃纤维</tspan><tspan x="382" dy="15.6">布等各种玻璃。产品经国家玻璃检验中心检验</tspan><tspan x="382" dy="15.6">为优等品并于1999年通过is09002质量体系</tspan><tspan x="382" dy="15.6">认。并凭借优良的产品品质，准确的交期，完</tspan><tspan x="382" dy="15.6">善的售后服务，占据了玻璃市场的领先地位。</tspan><tspan x="382" dy="15.6">金利玻璃公司作为台玻长玻璃有限公司在湖南</tspan><tspan x="382" dy="15.6">省唯一的销售公司，集玻璃加工与玻璃销售于</tspan><tspan x="382" dy="15.6">一体，产品种类丰富，式样齐全，获得了消费</tspan><tspan x="382" dy="15.6">者的一致好评。</tspan></text></g>
<g id="l30"><rect class="n" x="608" y="1792.7" width="143" height="27.6" rx="4"/><text class="t" x="614" y="1810.7">(二)、建站的目的及期望:</text></g>
<g id="l31"><rect class="n" x="429" y="1739.2" width="152" height="27.6" rx="4"/><text class="t" x="435" y="1757.2">1、树立良好的企业形象；</text></g>
<g id="l32"><rect class="n" x="466" y="1792.7" width="115" height="27.6" rx="4"/><text class="t" x="472" y="1810.7">2、扩大销售区域；</text></g>
<g id="l33"><rect class="n" x="477" y="1846.2" width="104" height="27.6" rx="4"/><text class="t" x="483" y="1864.2">3、增加销售额；</text></g>

<g id="l34"><rect class="n" x="682" y="2052.7" width="180" height="27.6" rx="4"/><text class="t" x="688" y="2070.7">一、嘟嘟毛绒玩具有限公司现状</text></g>
<g id="l35"><rect class="n" x="403" y="1898.5" width="252" height="90" rx="4"/><text class="t"><tspan x="409" y="1916.5">随着我国经济的发展和生活水平的提高，毛绒</tspan><tspan x="409" dy="15.6">文化已成为中国一种新兴的文化形式。不仅孩</tspan><tspan x="409" dy="15.6">子们喜欢毛绒玩具，很多成人也将玩具作为一</tspan><tspan x="409" dy="15.6">种积极的、新颖的消遣方式。庞大的消费群体</tspan><tspan x="409" dy="15.6">给毛绒玩具带来了巨大的商机和潜力。</tspan></text></g>
<g id="l36"><rect class="n" x="403" y="2013.4" width="252" height="121.2" rx="4"/><text class="t"><tspan x="409" y="2031.4">本公司专业生产毛绒玩具，有专门的生产加工</tspan><tspan x="409" dy="15.6">线，操作经验有近十年之久。有电机200台，</tspan><tspan x="409" dy="15.6">熟练工人300多人，有一流的设计开发人员20</tspan><tspan x="409" dy="15.6">人。公司技术力量雄厚，管理基础扎实，生产</tspan><tspan x="409" dy="15.6">设备先进，产品质量优良，服务水平一流。已</tspan><tspan x="409" dy="15.6">通过ISO质量体系、环境体系及职业健康安全</tspan><tspan x="409" dy="15.6">管理体系认证。</tspan></text></g>
<g id="l37"><rect class="n" x="403" y="2159.1" width="252" height="58.8" rx="4"/><text class="t"><tspan x="409" y="2177.1">嘟嘟始终坚持贯彻"客户至上、信誉经营"的原</tspan><tspan x="409" dy="15.6">则。我们公司的全体员工每天都在努力，时刻</tspan><tspan x="409" dy="15.6">都在服务，我们坚信品牌铸就辉煌!</tspan></text></g>
<g id="l38"><rect class="n" x="610" y="2289.7" width="252" height="27.6" rx="4"/><text class="t" x="616" y="2307.7">二、嘟嘟毛绒玩具有限公司对电子商务的需求</text></g>
<g id="l39"><rect class="n" x="330" y="2243.4" width="252" height="43.2" rx="4"/><text class="t"><tspan x="336" y="2261.4">我们的玩具公司实现电子商务化是势在必行的</tspan><tspan x="336" dy="15.6">。需求分析如下:</tspan></text></g>
<g id="l40"><rect class="n" x="330" y="2312.1" width="252" height="58.8" rx="4"/><text class="t"><tspan x="336" y="2330.1">2)产品来源。可以由本公司独立自主地生产自</tspan><tspan x="336" dy="15.6">己的品牌产品，也可联系玩具产商，让他们加</tspan><tspan x="336" dy="15.6">盟我们，也可代销其他著名品牌的玩具。</tspan></text></g>

<g id="l41"><rect class="n" x="682" y="2549.7" width="180" height="27.6" rx="4"/><text class="t" x="688" y="2567.7">一、嘟嘟毛绒玩具有限公司现状</text></g>
<g id="l42"><rect class="n" x="403" y="2396" width="252" height="90" rx="4"/><text class="t"><tspan x="409" y="2414">随着我国经济的发展和生活水平的提高，毛绒</tspan><tspan x="409" dy="15.6">文化已成为中国一种新兴的文化形式。不仅孩</tspan><tspan x="409" dy="15.6">子们喜欢毛绒玩具，很多成人也将玩具作为一</tspan><tspan x="409" dy="15.6">种积极的、新颖的消遣方式。庞大的消费群体</tspan><tspan x="409" dy="15.6">给毛绒玩具带来了巨大的商机和潜力。</tspan></text></g>
<g id="l43"><rect class="n" x="403" y="2510.4" width="252" height="121.2" rx="4"/><text class="t"><tspan x="409" y="2528.4">本公司专业生产毛绒玩具，有专门的生产加工</tspan><tspan x="409" dy="15.6">线，操作经验有近十年之久。有电机200台，</tspan><tspan x="409" dy="15.6">熟练工人300多人，有一流的设计开发人员20</tspan><tspan x="409" dy="15.6">人。公司技术力量雄厚，管理基础扎实，生产</tspan><tspan x="409" dy="15.6">设备先进，产品质量优良，服务水平一流。已</tspan><tspan x="409" dy="15.6">通过ISO质量体系、环境体系及职业健康安全</tspan><tspan x="409" dy="15.6">管理体系认证。</tspan></text></g>
<g id="l44"><rect class="n" x="403" y="2656.6" width="252" height="58.8" rx="4"/><text class="t"><tspan x="409" y="2674.6">嘟嘟始终坚持贯彻"客户至上、信誉经营"的原</tspan><tspan x="409" dy="15.6">则。我们公司的全体员工每天都在努力，时刻</tspan><tspan x="409" dy="15.6">都在服务，我们坚信品牌铸就辉煌!</tspan></text></g>
<g id="l45"><rect class="n" x="610" y="2756.2" width="252" height="27.6" rx="4"/><text class="t" x="616" y="2774.2">二、嘟嘟毛绒玩具有限公司对电子商务的需求</text></g>
<g id="l46"><rect class="n" x="330" y="2748.4" width="252" height="43.2" rx="4"/><text class="t"><tspan x="336" y="2766.4">我们的玩具公司实现电子商务化是势在必行的</tspan><tspan x="336" dy="15.6">。需求分析如下:</tspan></text></g>
<g id="l47"><rect class="n" x="51" y="2740.6" width="252" height="58.8" rx="4"/><text class="t"><tspan x="57" y="2758.6">2）产品来源。可以由本公司独立自主地生产</tspan><tspan x="57" dy="15.6">自己的品牌产品，也可联系玩具产商，让他们</tspan><tspan x="57" dy="15.6">加盟我们，也可代销其他著名品牌的玩具。</tspan></text></g>

<g id="l48"><rect class="n" x="802" y="2882.2" width="60" height="27.6" rx="4"/><text class="t" x="808" y="2900.2">一、概述</text></g>
<g id="l49"><rect class="n" x="522" y="2824.6" width="252" height="58.8" rx="4"/><text class="t"><tspan x="528" y="2842.6">"_大酒店"是一家四大酒店，位于_市新城区</tspan><tspan x="528" dy="15.6">中心，酒店设各类客房150间(包括标准房、</tspan><tspan x="528" dy="15.6">豪华房、套房、总统套房)。</tspan></text></g>
<g id="l50"><rect class="n" x="522" y="2907.6" width="252" height="58.8" rx="4"/><text class="t"><tspan x="528" y="2925.6">系统建成后将成为_大酒店的一套规范、科学</tspan><tspan x="528" dy="15.6">的计算机实时化操作平台，既可提高酒店的现</tspan><tspan x="528" dy="15.6">代化服务质量。</tspan></text></g>
<g id="l51"><rect class="n" x="778" y="3221.2" width="84" height="27.6" rx="4"/><text class="t" x="784" y="3239.2">二、解决方案</text></g>
<g id="l52"><rect class="n" x="499" y="2992.8" width="252" height="74.4" rx="4"/><text class="t"><tspan x="505" y="3010.8">注册以"___大酒店"命名的国际定级域名，建</tspan><tspan x="505" dy="15.6">议使用_或_，前一个是"_"的拼音缩写加英</tspan><tspan x="505" dy="15.6">文的"cabaret(酒店)"构成，后一个是"_"的拼</tspan><tspan x="505" dy="15.6">音缩写加英文的"guesthouse宾馆"构成。</tspan></text></g>
<g id="l53"><rect class="n" x="691" y="3092.7" width="60" height="27.6" rx="4"/><text class="t" x="697" y="3110.7">网站首页</text></g>
<g id="l54"><rect class="n" x="499" y="3145.1" width="252" height="58.8" rx="4"/><text class="t"><tspan x="505" y="3163.1">突出"_大酒店"个性化设计，并以Fash动画形</tspan><tspan x="505" dy="15.6">式对外展示酒店的良好形象，为浏览者创造良</tspan><tspan x="505" dy="15.6">好的视觉效果;</tspan></text></g>
<g id="l55"><rect class="n" x="691" y="3229.7" width="60" height="27.6" rx="4"/><text class="t" x="697" y="3247.7">酒店介绍</text></g>
<g id="l56"><rect class="n" x="499" y="3282.6" width="252" height="58.8" rx="4"/><text class="t"><tspan x="505" y="3300.6">介绍酒店概况、特色、接待能力和服务宗旨，</tspan><tspan x="505" dy="15.6">还可以包括酒店的历史及成功举办过的大型活</tspan><tspan x="505" dy="15.6">动;</tspan></text></g>
<g id="l57"><rect class="n" x="610" y="3366.7" width="141" height="27.6" rx="4"/><text class="t" x="616" y="3384.7">客房介绍(采用二级浏览)</text></g>
<g id="l58"><rect class="n" x="499" y="3418.9" width="252" height="43.2" rx="4"/><text class="t"><tspan x="505" y="3436.9">第一级主要以文本列表形式介绍酒店不同档次</tspan><tspan x="505" dy="15.6">的客房;</tspan></text></g>

<g id="watermarks">
<text class="w" x="641" y="560" transform="rotate(-32 641 516)">树图 shutu.cn</text>
<text class="w" x="1925" y="560" transform="rotate(-32 1925 516)">树图 shutu.cn</text>
<text class="w" x="651" y="1580" transform="rotate(-32 651 1538)">树图 shutu.cn</text>
<text class="w" x="1925" y="1590" transform="rotate(-32 1925 1548)">树图 shutu.cn</text>
<text class="w" x="651" y="2568" transform="rotate(-32 651 2526)">树图 shutu.cn</text>
<text class="w" x="1925" y="2590" transform="rotate(-32 1925 2548)">树图 shutu.cn</text>
<text class="w" x="651" y="3558" transform="rotate(-32 651 3516)">树图 shutu.cn</text>
<text class="w" x="1925" y="3580" transform="rotate(-32 1925 3538)">树图 shutu.cn</text>
</g>
</svg>
